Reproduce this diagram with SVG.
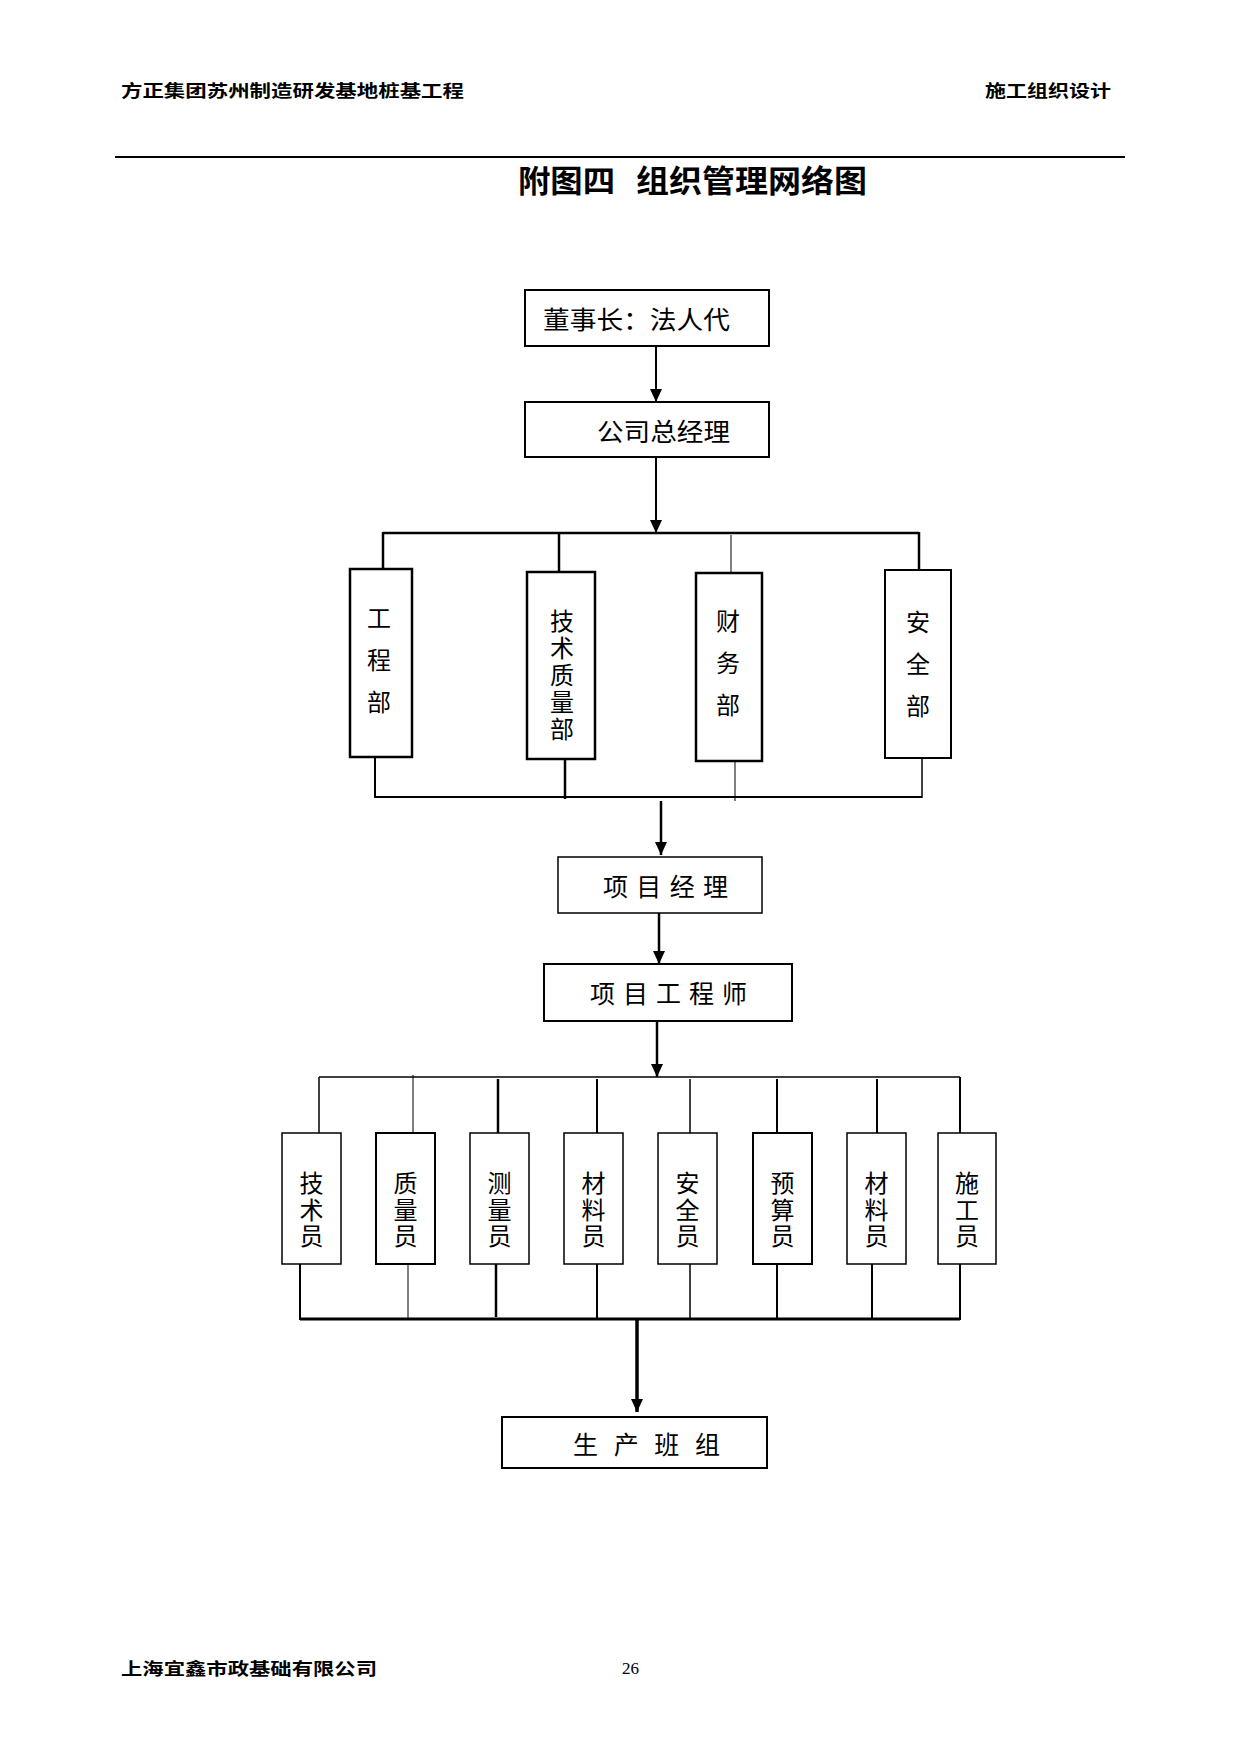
<svg xmlns="http://www.w3.org/2000/svg" width="1241" height="1754" viewBox="0 0 1241 1754">
<style>
text{font-family:"Noto Sans CJK SC","Liberation Sans",sans-serif;fill:#000}
.hd{font-size:17px;font-weight:bold}
.tt{font-size:31px;font-weight:bold}
.lb{font-size:25px;dominant-baseline:central}
.vl{font-size:24px;writing-mode:vertical-rl;text-anchor:middle}
.v3{letter-spacing:18px}
.v5{letter-spacing:3px}
.vs{letter-spacing:2.5px}
.bx{fill:#fff;stroke:#000}
.ln{stroke:#000;fill:none}
</style>
<defs>
<marker id="ad" markerUnits="userSpaceOnUse" markerWidth="12" markerHeight="14" refX="6" refY="13" orient="0" viewBox="0 0 12 14">
<path d="M0,0 L12,0 L6,13 Z" fill="#000"/>
</marker>
</defs>
<rect width="1241" height="1754" fill="#fff"/>
<g id="header">
<text class="hd" x="121" y="97" textLength="343" lengthAdjust="spacingAndGlyphs">方正集团苏州制造研发基地桩基工程</text>
<text class="hd" x="985" y="97" textLength="126" lengthAdjust="spacingAndGlyphs">施工组织设计</text>
<line x1="115" y1="157" x2="1125" y2="157" stroke="#000" stroke-width="2"/>
<text class="tt" x="518" y="192" textLength="97" lengthAdjust="spacingAndGlyphs">附图四</text>
<text class="tt" x="636" y="192" textLength="231" lengthAdjust="spacingAndGlyphs">组织管理网络图</text>
</g>
<g id="connectors">
<line class="ln" x1="656" y1="346" x2="656" y2="402" stroke-width="2" marker-end="url(#ad)"/>
<line class="ln" x1="656" y1="457" x2="656" y2="533" stroke-width="2" marker-end="url(#ad)"/>
<line class="ln" x1="383" y1="533" x2="919" y2="533" stroke-width="2.5"/>
<line class="ln" x1="383" y1="532" x2="383" y2="569" stroke-width="2.5"/>
<line class="ln" x1="559" y1="532" x2="559" y2="572" stroke-width="2.5"/>
<line class="ln" x1="731" y1="535" x2="731" y2="573" stroke-width="1"/>
<line class="ln" x1="919" y1="532" x2="919" y2="570" stroke-width="2.5"/>
<line class="ln" x1="375" y1="757" x2="375" y2="798" stroke-width="2"/>
<line class="ln" x1="565" y1="759" x2="565" y2="799" stroke-width="2.5"/>
<line class="ln" x1="735" y1="761" x2="735" y2="801" stroke-width="1"/>
<line class="ln" x1="922" y1="758" x2="922" y2="798" stroke-width="1.5"/>
<line class="ln" x1="375" y1="797" x2="922" y2="797" stroke-width="2"/>
<line class="ln" x1="661" y1="801" x2="661" y2="855" stroke-width="2.5" marker-end="url(#ad)"/>
<line class="ln" x1="659" y1="913" x2="659" y2="964" stroke-width="2.5" marker-end="url(#ad)"/>
<line class="ln" x1="657" y1="1021" x2="657" y2="1077" stroke-width="2.5" marker-end="url(#ad)"/>
<line class="ln" x1="319" y1="1077" x2="960" y2="1077" stroke-width="1.5"/>
<line class="ln" x1="319" y1="1077" x2="319" y2="1133" stroke-width="1.5"/>
<line class="ln" x1="413" y1="1075" x2="413" y2="1132" stroke-width="1"/>
<line class="ln" x1="498" y1="1079" x2="498" y2="1133" stroke-width="2.5"/>
<line class="ln" x1="597" y1="1079" x2="597" y2="1133" stroke-width="2"/>
<line class="ln" x1="690" y1="1079" x2="690" y2="1133" stroke-width="1.5"/>
<line class="ln" x1="777" y1="1079" x2="777" y2="1133" stroke-width="2"/>
<line class="ln" x1="877" y1="1079" x2="877" y2="1133" stroke-width="2"/>
<line class="ln" x1="960" y1="1077" x2="960" y2="1133" stroke-width="2"/>
<line class="ln" x1="300" y1="1264" x2="300" y2="1320" stroke-width="2"/>
<line class="ln" x1="408" y1="1264" x2="408" y2="1320" stroke-width="1"/>
<line class="ln" x1="496" y1="1260" x2="496" y2="1317" stroke-width="2.5"/>
<line class="ln" x1="597" y1="1264" x2="597" y2="1320" stroke-width="2"/>
<line class="ln" x1="690" y1="1264" x2="690" y2="1320" stroke-width="1.5"/>
<line class="ln" x1="777" y1="1264" x2="777" y2="1320" stroke-width="2"/>
<line class="ln" x1="872" y1="1264" x2="872" y2="1320" stroke-width="2"/>
<line class="ln" x1="960" y1="1264" x2="960" y2="1320" stroke-width="2"/>
<line class="ln" x1="300" y1="1319" x2="960" y2="1319" stroke-width="3"/>
<line class="ln" x1="637" y1="1319" x2="637" y2="1412" stroke-width="3.5" marker-end="url(#ad)"/>
</g>
<g id="n-chairman">
<rect class="bx" x="525" y="290" width="244" height="56" stroke-width="2"/>
<text class="lb" x="543" y="318" textLength="187" lengthAdjust="spacingAndGlyphs">董事长：法人代</text>
</g>
<g id="n-gm">
<rect class="bx" x="525" y="402" width="244" height="55" stroke-width="2"/>
<text class="lb" x="597" y="430" textLength="133" lengthAdjust="spacingAndGlyphs">公司总经理</text>
</g>
<g id="n-gcb">
<rect class="bx" x="350" y="569" width="62" height="188" stroke-width="2.5"/>
<text class="vl v3" x="379" y="669">工程部</text>
</g>
<g id="n-jszlb">
<rect class="bx" x="527" y="572" width="68" height="187" stroke-width="2.5"/>
<text class="vl v5" x="562" y="676">技术质量部</text>
</g>
<g id="n-cwb">
<rect class="bx" x="696" y="573" width="66" height="188" stroke-width="2.5"/>
<text class="vl v3" x="728" y="672">财务部</text>
</g>
<g id="n-aqb">
<rect class="bx" x="885" y="570" width="66" height="188" stroke-width="2"/>
<text class="vl v3" x="918" y="673">安全部</text>
</g>
<g id="n-pm">
<rect class="bx" x="558" y="857" width="204" height="56" stroke-width="1.5"/>
<text class="lb" x="603" y="885" textLength="125" lengthAdjust="spacing">项 目 经 理</text>
</g>
<g id="n-pe">
<rect class="bx" x="544" y="964" width="248" height="57" stroke-width="2"/>
<text class="lb" x="590" y="992" textLength="157" lengthAdjust="spacing">项 目 工 程 师</text>
</g>
<g id="n-s1">
<rect class="bx" x="282" y="1133" width="59" height="131" stroke-width="1.5"/>
<text class="vl vs" x="311.5" y="1211">技术员</text>
</g>
<g id="n-s2">
<rect class="bx" x="376" y="1133" width="59" height="131" stroke-width="2"/>
<text class="vl vs" x="405.5" y="1211">质量员</text>
</g>
<g id="n-s3">
<rect class="bx" x="470" y="1133" width="59" height="131" stroke-width="1.5"/>
<text class="vl vs" x="499.5" y="1211">测量员</text>
</g>
<g id="n-s4">
<rect class="bx" x="564" y="1133" width="59" height="131" stroke-width="1.5"/>
<text class="vl vs" x="593.5" y="1211">材料员</text>
</g>
<g id="n-s5">
<rect class="bx" x="658" y="1133" width="59" height="131" stroke-width="1.5"/>
<text class="vl vs" x="687.5" y="1211">安全员</text>
</g>
<g id="n-s6">
<rect class="bx" x="753" y="1133" width="59" height="131" stroke-width="2"/>
<text class="vl vs" x="782.5" y="1211">预算员</text>
</g>
<g id="n-s7">
<rect class="bx" x="847" y="1133" width="59" height="131" stroke-width="1.5"/>
<text class="vl vs" x="876.5" y="1211">材料员</text>
</g>
<g id="n-s8">
<rect class="bx" x="938" y="1133" width="58" height="131" stroke-width="1.5"/>
<text class="vl vs" x="967" y="1211">施工员</text>
</g>
<g id="n-team">
<rect class="bx" x="502" y="1417" width="265" height="51" stroke-width="2"/>
<text class="lb" x="573" y="1443" textLength="147" lengthAdjust="spacing">生 产 班 组</text>
</g>
<g id="footer">
<text class="hd" x="121" y="1675" textLength="256" lengthAdjust="spacingAndGlyphs">上海宜鑫市政基础有限公司</text>
<text x="622" y="1674" style="font-family:'Liberation Serif',serif;font-size:17px">26</text>
</g>
</svg>
